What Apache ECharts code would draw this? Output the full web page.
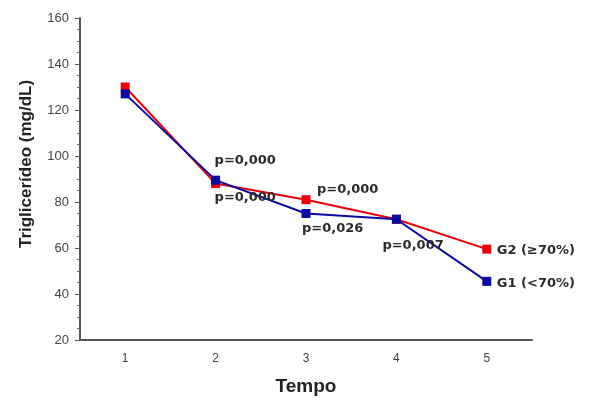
<!DOCTYPE html>
<html>
<head>
<meta charset="utf-8">
<script src="https://cdn.jsdelivr.net/npm/echarts@6/dist/echarts.min.js"></script>
<style>
  html, body { margin: 0; padding: 0; background: #fff; }
  #main { width: 592px; height: 401px; }
</style>
</head>
<body>
<div id="main"></div>
<script>
// dados
var tempos = ['1', '2', '3', '4', '5'];
var g2Valores = [130, 88, 81, 72.5, 59.5];
var g1Valores = [127, 89.5, 75, 72.5, 45.5];
var g2Textos = [null, 'p=0,000', 'p=0,000', null, 'G2 (≥70%)'];
var g1Textos = [null, 'p=0,000', 'p=0,026', 'p=0,007', 'G1 (<70%)'];
var yTicks = [20, 160, 20]; // min, max, intervalo

// deslocamento de cada rótulo em relação ao ponto
var g2Offsets = [null, [-1, 14], [11, -10], null, [10, 1]];
var g1Offsets = [null, [-1, -20], [-4, 15], [-14, 26], [10, 2]];

function montarDados(valores, textos, offsets) {
	var data = [];
	for (let i = 0; i < valores.length; i++) {
		var item = { value: valores[i] };
		if (textos[i]) {
			item.label = {
				show: true,
				position: 'inside',
				align: 'left',
				verticalAlign: 'middle',
				offset: offsets[i],
				formatter: textos[i]
			};
		}
		data.push(item);
	}
	return data;
}

var chart = echarts.init(document.getElementById('main'));

var labelStyle = {
	fontFamily: 'DejaVu Sans',
	fontWeight: 'bold',
	fontSize: 13,
	color: '#2b2b2b'
};

chart.setOption({
	backgroundColor: '#ffffff',
	animation: false,
	grid: { left: 80, right: 60, top: 18, bottom: 54 },
	xAxis: {
		type: 'category',
		data: tempos,
		boundaryGap: true,
		name: 'Tempo',
		nameLocation: 'middle',
		nameGap: 37,
		nameTextStyle: { fontFamily: 'Liberation Sans', fontWeight: 'bold', fontSize: 19, color: '#222' },
		axisLine: { lineStyle: { color: '#555', width: 2 } },
		axisTick: { alignWithLabel: true, length: 3, lineStyle: { color: '#888' } },
		axisLabel: { fontFamily: 'Liberation Sans', fontSize: 12, color: '#444', margin: 13 },
		splitLine: { show: false }
	},
	yAxis: {
		type: 'value',
		min: yTicks[0],
		max: yTicks[1],
		interval: yTicks[2],
		name: 'Triglicerídeo (mg/dL)',
		nameLocation: 'middle',
		nameGap: 45,
		nameTextStyle: { fontFamily: 'Liberation Sans', fontWeight: 'bold', fontSize: 17, color: '#222', padding: [0, 0, 0, 30] },
		axisLine: { show: true, lineStyle: { color: '#555', width: 2 } },
		axisTick: { show: true, length: 5, lineStyle: { color: '#555' } },
		minorTick: { show: true, splitNumber: 4, length: 3, lineStyle: { color: '#666' } },
		axisLabel: { fontFamily: 'Liberation Sans', fontSize: 13, color: '#444', margin: 11 },
		splitLine: { show: false }
	},
	series: [{
		name: 'G2',
		type: 'line',
		data: montarDados(g2Valores, g2Textos, g2Offsets),
		symbol: 'rect',
		symbolSize: 9,
		itemStyle: { color: '#e8000b' },
		lineStyle: { color: '#e8000b', width: 2 },
		label: labelStyle
	}, {
		name: 'G1',
		type: 'line',
		data: montarDados(g1Valores, g1Textos, g1Offsets),
		symbol: 'rect',
		symbolSize: 9,
		itemStyle: { color: '#0a0a9e' },
		lineStyle: { color: '#0a0a9e', width: 2 },
		label: labelStyle
	}]
});
</script>
</body>
</html>
